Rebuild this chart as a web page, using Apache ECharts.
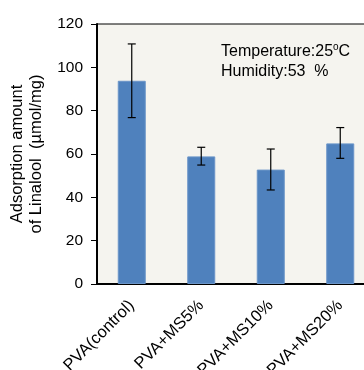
<!DOCTYPE html>
<html>
<head>
<meta charset="utf-8">
<script src="https://cdn.jsdelivr.net/npm/echarts@6/dist/echarts.min.js"></script>
<style>
  html, body { margin: 0; padding: 0; background: #fff; }
  #chart { width: 364px; height: 370px; }
</style>
</head>
<body>
<div id="chart"></div>
<script>
const categories = ['PVA(control)', 'PVA+MS5%', 'PVA+MS10%', 'PVA+MS20%']
const values = [93.8, 58.9, 52.8, 64.9]
const errLow = [76.8, 54.9, 43.4, 58.0]
const errHigh = [110.8, 63.1, 62.3, 72.2]
const yTicks = [0, 20, 40, 60, 80, 100, 120]

const font = '"Liberation Sans", Arial, sans-serif'
const chart = echarts.init(document.getElementById('chart'), undefined, { renderer: 'canvas' })

const errData = categories.map((c, i) => [i, errLow[i], errHigh[i]])

chart.setOption({
  backgroundColor: '#ffffff',
  animation: false,
  grid: {
    left: 97,
    top: 24,
    width: 278,
    height: 260,
    outerBoundsMode: 'none',
    containLabel: false,
    show: true,
    backgroundColor: '#f5f4ef',
    borderColor: '#000',
    borderWidth: 1,
  },
  xAxis: {
    type: 'category',
    data: categories,
    axisLine: { lineStyle: { color: '#000', width: 2 } },
    axisTick: { show: false },
    axisLabel: {
      rotate: 45,
      margin: 19,
      color: '#000',
      fontSize: 16.5,
      fontFamily: font,
      interval: 0,
    },
  },
  yAxis: {
    type: 'value',
    min: yTicks[0],
    max: yTicks[yTicks.length - 1],
    interval: 20,
    splitLine: { show: false },
    axisLine: { show: true, lineStyle: { color: '#000', width: 2 } },
    axisTick: { show: true, length: 6, lineStyle: { color: '#000', width: 1 } },
    axisLabel: { color: '#000', fontSize: 15.5, fontFamily: font, margin: 14 },
    name: 'Adsorption amount\nof Linalool  (µmol/mg)',
    nameLocation: 'middle',
    nameGap: 45,
    nameTextStyle: { color: '#000', fontSize: 16.5, fontFamily: font, lineHeight: 19 },
  },
  graphic: [
    {
      type: 'text',
      left: 221,
      top: 42,
      style: {
        text: 'Temperature:25{sup|o}C\nHumidity:53  %',
        fill: '#000',
        font: '16px ' + font,
        lineHeight: 20,
        rich: {
          sup: { fontSize: 10, verticalAlign: 'top', padding: [0, 0, 7, 0], fontFamily: font },
        },
      },
    },
  ],
  series: [
    {
      type: 'bar',
      data: values,
      barWidth: 28,
      itemStyle: { color: '#4f81bd', borderColor: '#6b95c8', borderWidth: 1 },
    },
    {
      type: 'custom',
      data: errData,
      z: 10,
      renderItem: function (params, api) {
        const x = api.value(0)
        const lo = api.coord([x, api.value(1)])
        const hi = api.coord([x, api.value(2)])
        const cap = 4
        const style = { stroke: '#000', lineWidth: 1.2 }
        return {
          type: 'group',
          children: [
            { type: 'line', shape: { x1: lo[0], y1: lo[1], x2: hi[0], y2: hi[1] }, style },
            { type: 'line', shape: { x1: hi[0] - cap, y1: hi[1], x2: hi[0] + cap, y2: hi[1] }, style },
            { type: 'line', shape: { x1: lo[0] - cap, y1: lo[1], x2: lo[0] + cap, y2: lo[1] }, style },
          ],
        }
      },
    },
  ],
})
</script>
</body>
</html>
